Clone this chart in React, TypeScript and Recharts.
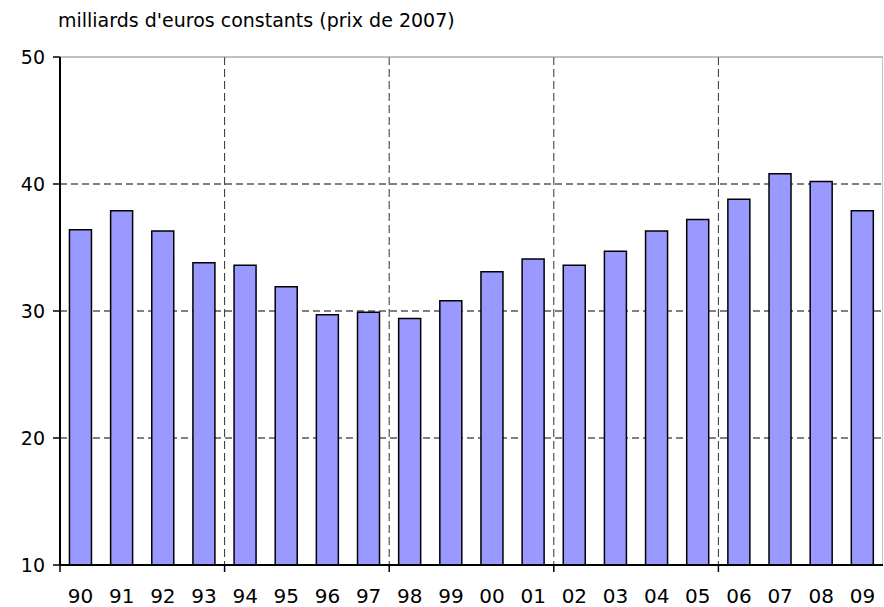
import React from 'react';
import { BarChart, Bar, XAxis, YAxis, CartesianGrid, ReferenceLine } from 'recharts';

const years = ['90','91','92','93','94','95','96','97','98','99','00','01','02','03','04','05','06','07','08','09'];
const values = [36.4,37.9,36.3,33.8,33.6,31.9,29.7,29.9,29.4,30.8,33.1,34.1,33.6,34.7,36.3,37.2,38.8,40.8,40.2,37.9];
const yTicks = [10,20,30,40,50];
const yGridValues = [20,30,40];
const groupEvery = 4;
const title = "milliards d'euros constants (prix de 2007)";

const data = years.map((y, i) => ({ year: y, value: values[i] }));

const FONT = '"DejaVu Sans", Arial, sans-serif';
const Y_MIN = 10;
const Y_MAX = 50;

const XTick = (props: any) => {
  const { x, y, payload, index } = props;
  const axisY = y - 6 - 18;
  const off = payload && payload.offset ? payload.offset : 0;
  return (
    <g>
      {index % groupEvery === 0 ? (
        <line x1={x - off} x2={x - off} y1={axisY} y2={axisY + 7} stroke="#000" strokeWidth={1.5} />
      ) : null}
      <text x={x} y={y} dy="0.71em" textAnchor="middle" fontSize={20} fill="#000" fontFamily={FONT}>
        {payload.value}
      </text>
    </g>
  );
};

const vGen = (p: any) => {
  const off = p.offset;
  const n = years.length;
  const out: number[] = [];
  for (let k = groupEvery; k < n; k += groupEvery) out.push(off.left + (off.width * k) / n);
  return out;
};

const rightGen = (p: any) => [p.offset.left + p.offset.width - 0.5];

const hGen = (p: any) => {
  const off = p.offset;
  return yGridValues.map((v) => off.top + (off.height * (Y_MAX - v)) / (Y_MAX - Y_MIN));
};

export default function App() {
  return (
    <div style={{ position: 'absolute', left: 0, top: 0, width: 884, height: 607, background: '#fff' }}>
      <div
        style={{
          position: 'absolute',
          left: 58,
          top: 11,
          fontFamily: FONT,
          fontSize: 19,
          lineHeight: '19px',
          color: '#000',
          whiteSpace: 'nowrap',
        }}
      >
        {title}
      </div>
      <BarChart
        width={884}
        height={607}
        data={data}
        margin={{ top: 57, right: 1, bottom: 0, left: 0 }}
        barCategoryGap="23%"
      >
        <CartesianGrid
          horizontal={true}
          vertical={false}
          stroke="#000"
          strokeDasharray="7 4"
          horizontalCoordinatesGenerator={hGen}
        />
        <CartesianGrid
          horizontal={false}
          vertical={true}
          stroke="#333"
          strokeDasharray="8 4"
          verticalCoordinatesGenerator={vGen}
        />
        <CartesianGrid
          horizontal={false}
          vertical={true}
          stroke="#c8c8c8"
          verticalCoordinatesGenerator={rightGen}
        />
        <XAxis
          dataKey="year"
          type="category"
          height={42}
          tickLine={false}
          tickMargin={18}
          interval={0}
          axisLine={{ stroke: '#000', strokeWidth: 2 }}
          tick={<XTick />}
        />
        <YAxis
          domain={[Y_MIN, Y_MAX]}
          ticks={yTicks}
          width={60}
          tickSize={7}
          tickMargin={8}
          interval={0}
          axisLine={{ stroke: '#000', strokeWidth: 2 }}
          tickLine={{ stroke: '#000', strokeWidth: 1.5 }}
          tick={{ fill: '#000', fontSize: 19, fontFamily: FONT }}
          allowDataOverflow
        />
        <ReferenceLine y={Y_MAX} stroke="#808080" strokeWidth={1} />
        <Bar
          dataKey="value"
          fill="#9999FF"
          stroke="#000"
          strokeWidth={1.5}
          isAnimationActive={false}
        />
      </BarChart>
    </div>
  );
}
